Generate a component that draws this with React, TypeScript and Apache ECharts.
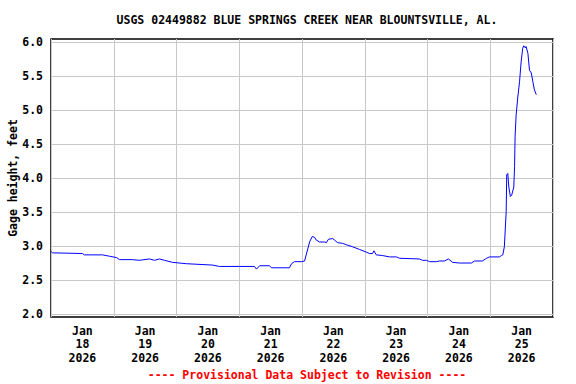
import React, { useEffect, useRef } from "react";
import * as echarts from "echarts";

const TITLE = "USGS 02449882 BLUE SPRINGS CREEK NEAR BLOUNTSVILLE, AL.";
const FOOTER = "---- Provisional Data Subject to Revision ----";
const Y_NAME = "Gage height, feet";

// x labels (one per day, Jan 18..25 2026)
const DAY_LABELS = ["Jan\n18\n2026", "Jan\n19\n2026", "Jan\n20\n2026", "Jan\n21\n2026", "Jan\n22\n2026", "Jan\n23\n2026", "Jan\n24\n2026", "Jan\n25\n2026"];
const Y_TICKS = [2.0, 2.5, 3.0, 3.5, 4.0, 4.5, 5.0, 5.5, 6.0];

// hours since Jan 18 2026 00:00
const HOURS = [
  0, 0.6, 12.0, 12.8, 19.7, 22.4, 25.1, 26.2, 31.2, 33.8, 37.7, 39.6, 41.5, 43.4, 46.5, 51.8,
  61.8, 64.4, 72.1, 77.8, 78.6, 79.8, 83.6, 84.3, 91.2, 92.0, 93.1, 95.8, 97.0, 97.6, 98.3,
  98.9, 99.9, 100.8, 101.4, 102.7, 104.6, 105.3, 106.1, 107.7, 108.4, 109.6, 111.5, 112.9,
  115.3, 118.0, 120.6, 121.8, 123.0, 123.5, 124.4, 126.8, 129.5, 132.1, 133.3, 140.9, 142.1,
  143.6, 144.8, 147.4, 148.6, 150.5, 152.0, 153.6, 156.2, 160.8, 162.0, 165.0, 166.6, 167.7,
  171.5, 172.3, 172.8, 173.4, 174.1, 174.3, 174.7, 175.1, 175.7, 176.2, 177.0, 177.3, 177.5,
  177.9, 178.5, 179.2, 179.8, 180.4, 180.8, 181.4, 181.7, 182.4, 183.0, 183.7, 184.3, 184.9,
  185.6,
];
// gage height, feet
const GAGE = [
  2.92, 2.90, 2.89, 2.87, 2.87, 2.85, 2.83, 2.80, 2.80, 2.79, 2.81, 2.79, 2.81, 2.79, 2.76, 2.74,
  2.72, 2.70, 2.70, 2.70, 2.66, 2.71, 2.71, 2.68, 2.68, 2.74, 2.77, 2.77, 2.78, 2.87, 2.97,
  3.06, 3.14, 3.13, 3.09, 3.06, 3.06, 3.05, 3.10, 3.11, 3.09, 3.05, 3.04, 3.02,
  2.99, 2.95, 2.91, 2.89, 2.89, 2.93, 2.87, 2.86, 2.84, 2.84, 2.82, 2.81, 2.79,
  2.79, 2.77, 2.77, 2.78, 2.78, 2.81, 2.76, 2.75, 2.75, 2.78, 2.78, 2.82, 2.84,
  2.84, 2.86, 2.87, 2.99, 3.51, 4.05, 4.07, 3.87, 3.73, 3.75, 3.87, 4.17, 4.61,
  4.93, 5.18, 5.42, 5.71, 5.91, 5.95, 5.92, 5.94, 5.84, 5.59, 5.55, 5.42, 5.30,
  5.23,
];

const FONT = "'DejaVu Sans Mono', monospace";

export default function App() {
  const ref = useRef<HTMLDivElement>(null);
  useEffect(() => {
    if (!ref.current) return;
    const chart = echarts.init(ref.current, null, { renderer: "svg" });
    const data = HOURS.map((h, i) => [h, GAGE[i]]);
    chart.setOption({
      animation: false,
      backgroundColor: "#fff",
      title: [
        {
          text: TITLE,
          left: 302,
          textAlign: "center",
          top: 9,
          textStyle: { fontFamily: FONT, fontSize: 11.5, fontWeight: "bold", color: "#000" },
        },
        {
          text: FOOTER,
          left: 302,
          textAlign: "center",
          top: 364,
          textStyle: { fontFamily: FONT, fontSize: 11.5, fontWeight: "bold", color: "#ff0000" },
        },
      ],
      grid: {
        left: 51,
        right: 23,
        top: 39,
        bottom: 67,
        outerBoundsMode: "none",
        containLabel: false,
        show: true,
        borderColor: "#000",
        borderWidth: 1.5,
        backgroundColor: "transparent",
      },
      xAxis: [
        {
          type: "value",
          min: 0,
          max: 192,
          interval: 24,
          axisLine: { show: false },
          axisTick: { show: false },
          axisLabel: { show: false },
          splitLine: { show: true, lineStyle: { color: "#c8c8c8", width: 1 } },
        },
        {
          type: "category",
          data: DAY_LABELS,
          boundaryGap: true,
          position: "bottom",
          axisLine: { show: false },
          axisTick: { show: false },
          splitLine: { show: false },
          axisLabel: {
            margin: 7,
            interval: 0,
            fontFamily: FONT,
            fontSize: 11.5,
            fontWeight: "bold",
            color: "#000",
            lineHeight: 13.5,
          },
        },
      ],
      yAxis: {
        type: "value",
        min: 1.955,
        max: 6.05,
        name: Y_NAME,
        nameLocation: "middle",
        nameGap: 32,
        nameMoveOverlap: false,
        nameTextStyle: { fontFamily: FONT, fontSize: 11.5, fontWeight: "bold", color: "#000" },
        axisLine: { show: false },
        axisTick: { show: false, customValues: Y_TICKS },
        axisLabel: {
          customValues: Y_TICKS,
          formatter: (v: number) => v.toFixed(1),
          fontFamily: FONT,
          fontSize: 11.5,
          fontWeight: "bold",
          color: "#000",
          margin: 8,
        },
        splitLine: { show: true, lineStyle: { color: "#c8c8c8", width: 1 } },
      },
      series: [
        {
          type: "line",
          xAxisIndex: 0,
          data,
          showSymbol: false,
          symbol: "none",
          lineStyle: { color: "#0000ff", width: 1 },
          z: 5,
        },
      ],
    });
    return () => chart.dispose();
  }, []);
  return (
    <div
      ref={ref}
      style={{ position: "fixed", left: 0, top: 0, width: 576, height: 384 }}
    />
  );
}
